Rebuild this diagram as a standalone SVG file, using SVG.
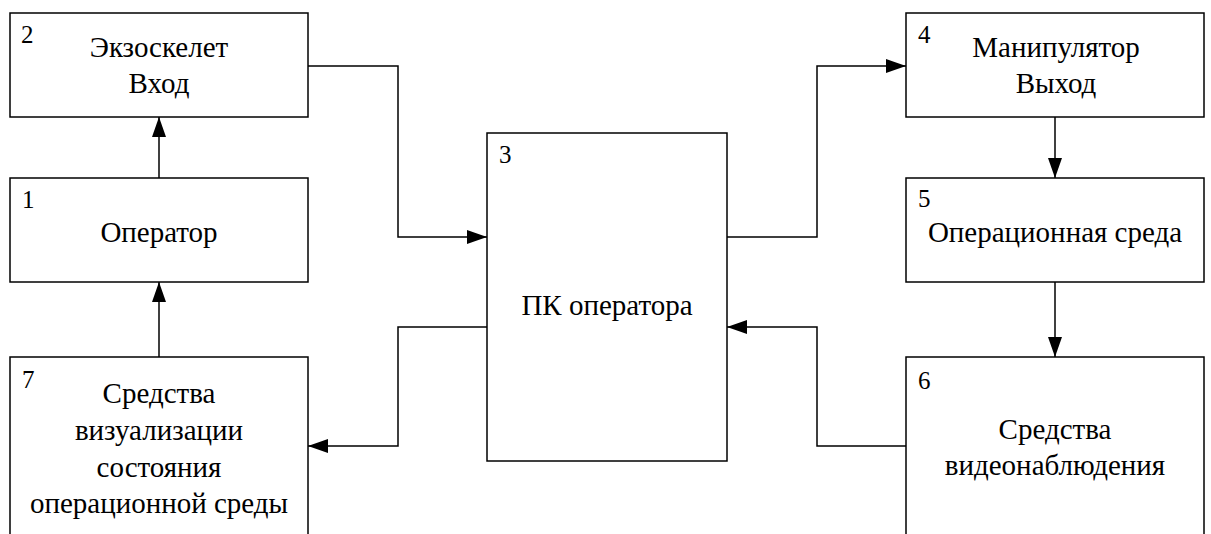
<svg xmlns="http://www.w3.org/2000/svg" width="1211" height="534" viewBox="0 0 1211 534">
  <style>
    .box { fill: #ffffff; stroke: #000000; stroke-width: 1.5; }
    .lbl { font-family: "Liberation Serif", "Times New Roman", serif; font-size: 29px; fill: #000000; text-anchor: middle; }
    .num { font-family: "Liberation Serif", "Times New Roman", serif; font-size: 25px; fill: #000000; }
    .wire { fill: none; stroke: #000000; stroke-width: 1.5; }
  </style>
  <defs>
    <marker id="arrow" viewBox="0 0 20 14" refX="20" refY="7" markerWidth="20" markerHeight="14" markerUnits="userSpaceOnUse" orient="auto">
      <path d="M0,0 L20,7 L0,14 Z" fill="#000000"/>
    </marker>
  </defs>
  <rect width="1211" height="534" fill="#ffffff"/>

  <g id="connectors">
    <path class="wire" d="M159,178 V117" marker-end="url(#arrow)"/>
    <path class="wire" d="M159,357 V282" marker-end="url(#arrow)"/>
    <path class="wire" d="M308,66 H398 V237 H487" marker-end="url(#arrow)"/>
    <path class="wire" d="M487,327 H398 V446 H308" marker-end="url(#arrow)"/>
    <path class="wire" d="M727,237 H817 V66 H906" marker-end="url(#arrow)"/>
    <path class="wire" d="M906,446 H817 V327 H727" marker-end="url(#arrow)"/>
    <path class="wire" d="M1055,117 V178" marker-end="url(#arrow)"/>
    <path class="wire" d="M1055,282 V357" marker-end="url(#arrow)"/>
  </g>

  <g id="node-2">
    <rect class="box" x="10" y="13" width="298" height="104"/>
    <text class="num" x="21" y="43">2</text>
    <text class="lbl" x="159" y="57">Экзоскелет</text>
    <text class="lbl" x="159" y="93">Вход</text>
  </g>

  <g id="node-1">
    <rect class="box" x="10" y="178" width="298" height="104"/>
    <text class="num" x="22" y="208">1</text>
    <text class="lbl" x="159" y="242">Оператор</text>
  </g>

  <g id="node-7">
    <rect class="box" x="10" y="357" width="298" height="190"/>
    <text class="num" x="22" y="388">7</text>
    <text class="lbl" x="159" y="403">Средства</text>
    <text class="lbl" x="159" y="440">визуализации</text>
    <text class="lbl" x="159" y="477">состояния</text>
    <text class="lbl" x="159" y="513">операционной среды</text>
  </g>

  <g id="node-3">
    <rect class="box" x="487" y="133" width="240" height="328"/>
    <text class="num" x="499" y="163">3</text>
    <text class="lbl" x="607" y="315">ПК оператора</text>
  </g>

  <g id="node-4">
    <rect class="box" x="906" y="13" width="298" height="104"/>
    <text class="num" x="918" y="43">4</text>
    <text class="lbl" x="1056" y="57">Манипулятор</text>
    <text class="lbl" x="1056" y="93">Выход</text>
  </g>

  <g id="node-5">
    <rect class="box" x="906" y="178" width="298" height="104"/>
    <text class="num" x="918" y="207">5</text>
    <text class="lbl" x="1055" y="242">Операционная среда</text>
  </g>

  <g id="node-6">
    <rect class="box" x="906" y="357" width="298" height="190"/>
    <text class="num" x="918" y="389">6</text>
    <text class="lbl" x="1055" y="439">Средства</text>
    <text class="lbl" x="1055" y="475">видеонаблюдения</text>
  </g>
</svg>
